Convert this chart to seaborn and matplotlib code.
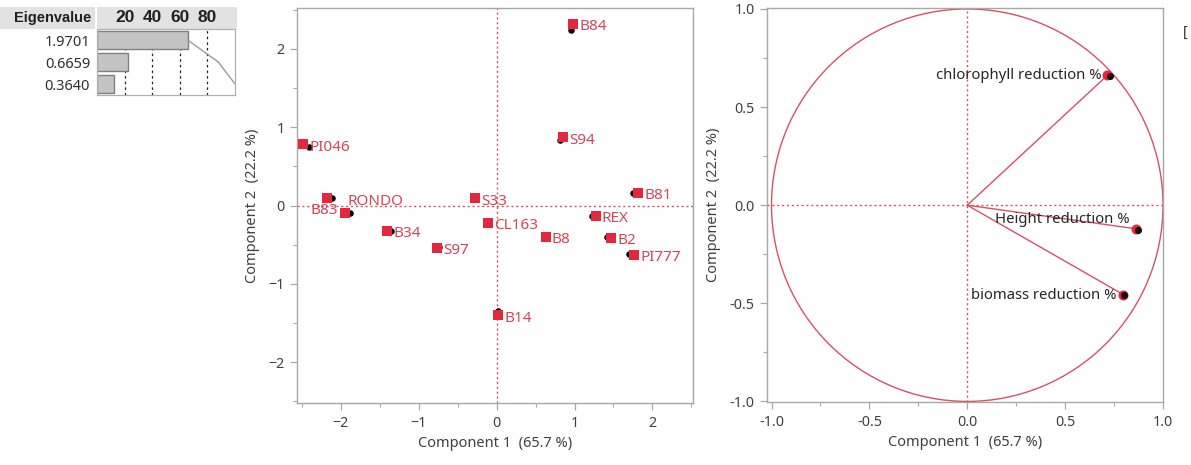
import numpy as np
import pandas as pd
import matplotlib
matplotlib.use("Agg")
import matplotlib.pyplot as plt
import seaborn as sns
from matplotlib.patches import Circle, Rectangle

# ---------------- data ----------------
eigenvalues = ["1.9701", "0.6659", "0.3640"]
percent = [65.67, 22.20, 12.13]
cum_percent = [65.67, 87.87, 100.0]
pct_ticks = [20, 40, 60, 80]

genotypes = ["B84", "S94", "PI046", "RONDO", "B83", "S33", "CL163", "B34",
             "S97", "B8", "B81", "REX", "B2", "PI777", "B14"]
score_x = [0.98, 0.85, -2.48, -2.18, -1.95, -0.28, -0.11, -1.40,
           -0.76, 0.63, 1.82, 1.27, 1.47, 1.76, 0.02]
score_y = [2.32, 0.87, 0.78, 0.10, -0.09, 0.09, -0.22, -0.32,
           -0.54, -0.40, 0.16, -0.13, -0.41, -0.63, -1.40]
alt_x = [0.95, 0.82, -2.41, -2.11, -1.88, -0.28, -0.11, -1.35,
         -0.74, 0.61, 1.75, 1.23, 1.42, 1.70, 0.02]
alt_y = [2.24, 0.83, 0.75, 0.10, -0.09, 0.09, -0.22, -0.32,
         -0.53, -0.40, 0.16, -0.13, -0.40, -0.62, -1.35]

variables = ["chlorophyll reduction %", "Height reduction %", "biomass reduction %"]
load_x = [0.716, 0.860, 0.798]
load_y = [0.662, -0.120, -0.456]
load_alt_x = [0.730, 0.872, 0.802]
load_alt_y = [0.658, -0.126, -0.460]

x_title = "Component 1  (65.7 %)"
y_title = "Component 2  (22.2 %)"

# ---------------- style ----------------
sns.set_theme(style="white")
plt.rcParams['font.family'] = ['Noto Sans', 'DejaVu Sans']

RED = "#E3283D"
LABEL_RED = "#D24657"
LINE_RED = "#D55262"
SPINE = "#A8A8A8"
TXT = "#404040"
BOLD_FONT = ['Liberation Sans', 'DejaVu Sans']

W, H = 1191, 465
fig = plt.figure(figsize=(W / 100, H / 100), dpi=100)
fig.patch.set_facecolor("white")


def ax_px(l, t, r, b):
    return fig.add_axes([l / W, 1 - b / H, (r - l) / W, (b - t) / H])


# ---------------- eigenvalue table ----------------
fig.patches.append(Rectangle((0, 1 - 29 / H), 95 / W, 22 / H, transform=fig.transFigure,
                             facecolor="#E2E2E2", edgecolor="none", zorder=-5))
fig.patches.append(Rectangle((97 / W, 1 - 29 / H), 140 / W, 22 / H, transform=fig.transFigure,
                             facecolor="#E2E2E2", edgecolor="none", zorder=-5))
fig.text(91 / W, 1 - 18 / H, "Eigenvalue", ha="right", va="center",
         fontsize=10.5, fontweight="bold", color="#202020", family=BOLD_FONT)

ax_e = ax_px(97, 29, 235, 95)
edf = pd.DataFrame({"eig": eigenvalues, "pct": percent})
for v in pct_ticks:
    ax_e.axvline(v, color="#202020", lw=0.9, ls=(0, (2, 2.5)), zorder=0.5)
sns.barplot(data=edf, x="pct", y="eig", orient="h", color="#C4C4C4",
            edgecolor="#808080", linewidth=1.0, width=0.8, saturation=1, ax=ax_e, zorder=2)
ax_e.plot(cum_percent, range(len(cum_percent)), color="#9A9A9A", lw=1.0, zorder=3)
ax_e.set_xlim(0, 100)
ax_e.set_ylim(2.5, -0.5)
ax_e.set_xlabel("")
ax_e.set_ylabel("")
ax_e.xaxis.tick_top()
ax_e.set_xticks(pct_ticks)
ax_e.set_xticklabels([str(v) for v in pct_ticks], fontsize=12.5, fontweight="bold",
                     color="#202020", family=BOLD_FONT)
ax_e.tick_params(axis="x", length=0, pad=3)
ax_e.tick_params(axis="y", length=0, pad=5, labelsize=10.5, labelcolor="#303030")
for s in ax_e.spines.values():
    s.set_color("#B0B0B0")
    s.set_linewidth(0.9)

# ---------------- score plot ----------------
ax_s = ax_px(297, 8, 693, 403)
sdf = pd.DataFrame({"name": genotypes, "x": score_x, "y": score_y, "ax": alt_x, "ay": alt_y})
sns.scatterplot(data=sdf, x="ax", y="ay", color="black", s=22, linewidth=0, ax=ax_s, zorder=3)
sns.scatterplot(data=sdf, x="x", y="y", color=RED, marker="s", s=48, linewidth=0, ax=ax_s, zorder=4)
ax_s.axhline(0, color=LINE_RED, lw=1.0, ls=(0, (1.5, 2)), zorder=1)
ax_s.axvline(0, color=LINE_RED, lw=1.0, ls=(0, (1.5, 2)), zorder=1)

label_offsets = {"RONDO": (15, -2.5, "left"), "B83": (-4.5, 1.5, "right")}
for _, r in sdf.iterrows():
    dx, dy, ha = label_offsets.get(r["name"], (4.5, -2, "left"))
    ax_s.annotate(r["name"], (r["x"], r["y"]), xytext=(dx, dy), textcoords="offset points",
                  ha=ha, va="center", fontsize=11, color=LABEL_RED, zorder=5)

ax_s.set_xlim(-2.56, 2.52)
ax_s.set_ylim(-2.52, 2.52)
ax_s.set_xticks([-2, -1, 0, 1, 2])
ax_s.set_yticks([-2, -1, 0, 1, 2])
ax_s.set_xticks(np.arange(-2.5, 2.6, 0.5), minor=True)
ax_s.set_yticks(np.arange(-2.5, 2.6, 0.5), minor=True)

# ---------------- loading plot ----------------
ax_l = ax_px(767, 8, 1163, 402)
ldf = pd.DataFrame({"var": variables, "x": load_x, "y": load_y, "ax": load_alt_x, "ay": load_alt_y})
ax_l.add_patch(Circle((0, 0), 1.0, fill=False, edgecolor=LINE_RED, lw=1.0, zorder=2))
ax_l.axhline(0, color=LINE_RED, lw=1.0, ls=(0, (1.5, 2)), zorder=1)
ax_l.axvline(0, color=LINE_RED, lw=1.0, ls=(0, (1.5, 2)), zorder=1)
for _, r in ldf.iterrows():
    ax_l.plot([0, r["x"]], [0, r["y"]], color=LINE_RED, lw=1.0, zorder=2)
sns.scatterplot(data=ldf, x="x", y="y", color=RED, s=52, linewidth=0, ax=ax_l, zorder=4)
sns.scatterplot(data=ldf, x="ax", y="ay", color="#1A0A0A", s=26, linewidth=0, ax=ax_l, zorder=5)
load_offsets = {"chlorophyll reduction %": (-4.5, 0),
                "Height reduction %": (-4.5, 7),
                "biomass reduction %": (-5, -0.5)}
for _, r in ldf.iterrows():
    dx, dy = load_offsets[r["var"]]
    ax_l.annotate(r["var"], (r["x"], r["y"]), xytext=(dx, dy), textcoords="offset points",
                  ha="right", va="center", fontsize=10.7, color="#262626", zorder=6)

ax_l.set_xlim(-1.023, 1.0)
ax_l.set_ylim(-1.003, 1.005)
ticks = [-1.0, -0.5, 0.0, 0.5, 1.0]
ax_l.set_xticks(ticks)
ax_l.set_yticks(ticks)
ax_l.set_xticklabels([f"{t:.1f}" for t in ticks])
ax_l.set_yticklabels([f"{t:.1f}" for t in ticks])
ax_l.set_xticks(np.arange(-1.0, 1.01, 0.25), minor=True)
ax_l.set_yticks(np.arange(-1.0, 1.01, 0.25), minor=True)

for ax in (ax_s, ax_l):
    ax.set_xlabel(x_title, fontsize=10.5, color=TXT, labelpad=4)
    ax.set_ylabel(y_title, fontsize=10.5, color=TXT, labelpad=6)
    ax.tick_params(axis="both", which="major", direction="out", length=5, width=0.9,
                   color=SPINE, labelsize=10.3, labelcolor=TXT, pad=4,
                   bottom=True, left=True)
    ax.tick_params(axis="both", which="minor", direction="out", length=3, width=0.8,
                   color=SPINE, bottom=True, left=True)
    for s in ax.spines.values():
        s.set_color(SPINE)
        s.set_linewidth(1.0)

fig.text(1183 / W, 1 - 32 / H, "[", ha="left", va="center", fontsize=10, color="#303030")

fig.savefig("out.png", dpi=100)
